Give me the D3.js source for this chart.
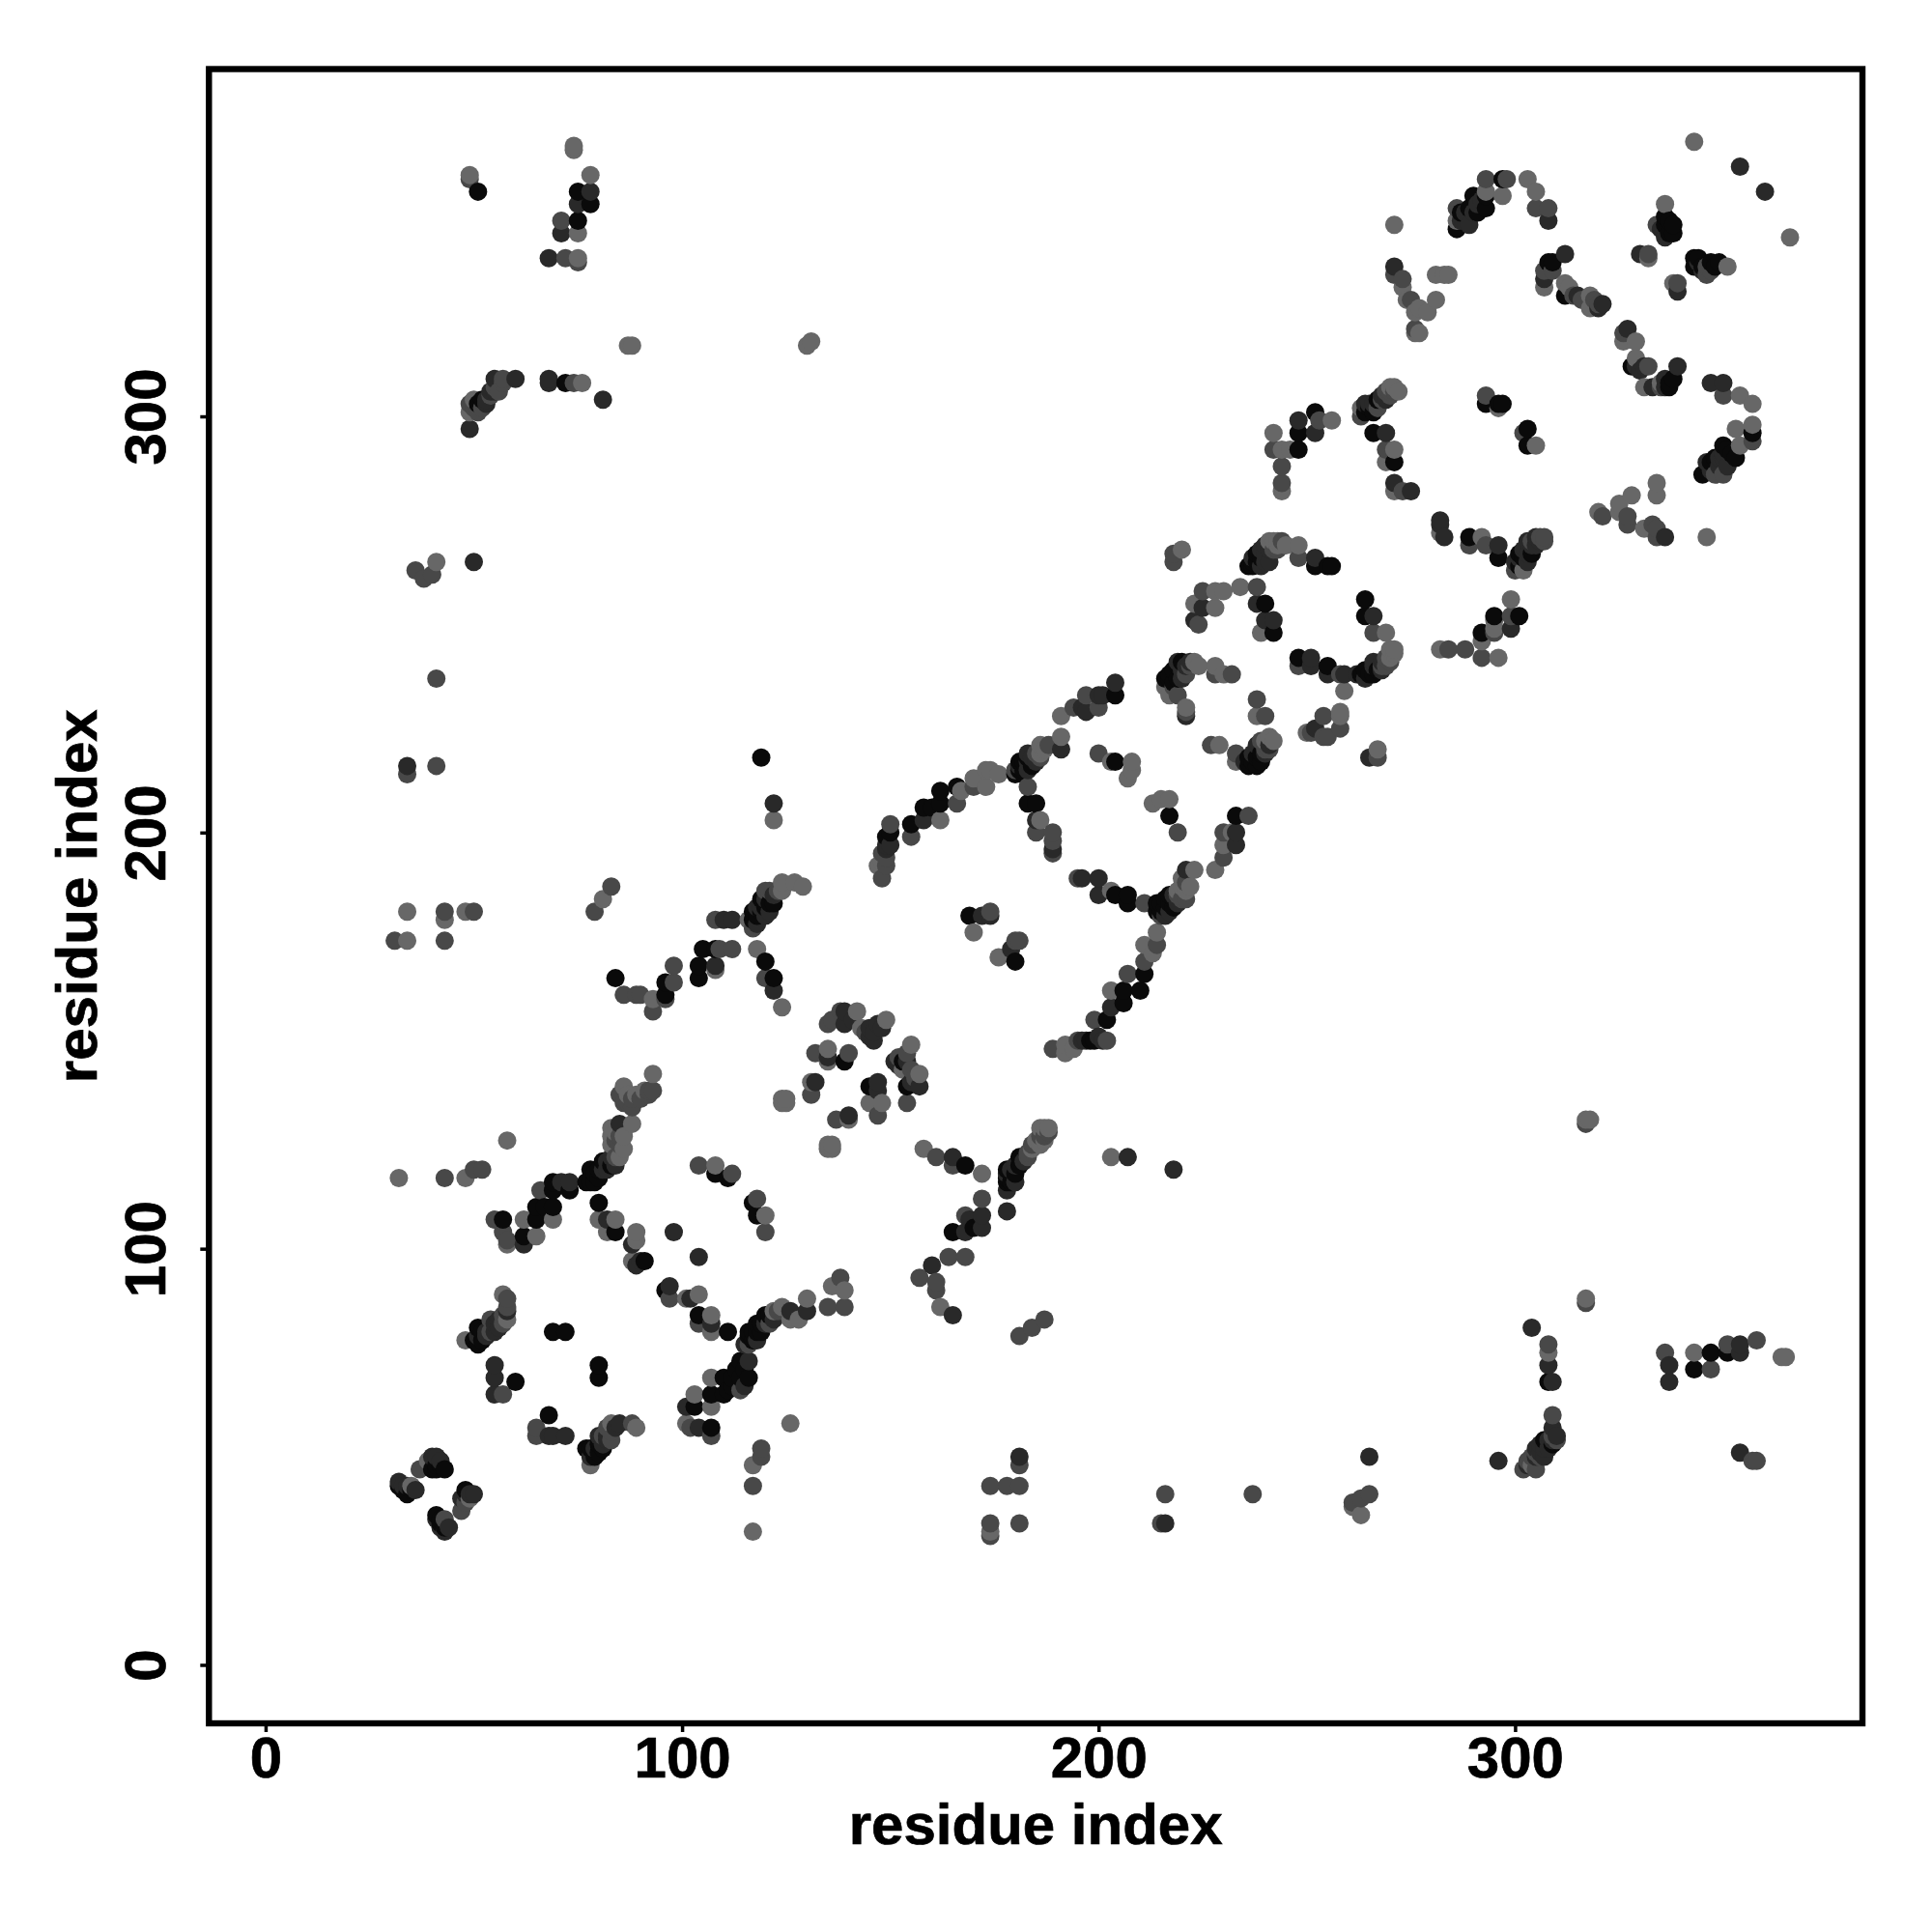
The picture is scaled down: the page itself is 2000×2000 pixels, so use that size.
<!DOCTYPE html>
<html><head><meta charset="utf-8">
<script src="https://cdn.jsdelivr.net/npm/d3@7/dist/d3.min.js"></script>
<style>html,body{margin:0;background:#fff}</style></head><body>
<script>
// each contact: [residue i, residue j, tone 0 (darkest) .. 3 (lightest)]
const tickValues=[0,100,200,300];
const axisTitle="residue index";
const bottomLeft=[[32,117,3],[43,117,2],[48,117,3],[50,119,2],[52,119,2],[55,107,2],[57,107,0],[57,104,2],[58,102,2],[58,101,3],[62,107,3],[62,101,1],[62,103,0],[65,103,3],[65,107,0],[69,107,3],[65,110,0],[67,110,0],[69,110,0],[66,114,2],[69,116,0],[69,114,0],[71,116,1],[73,114,0],[73,116,1],[77,116,0],[78,116,0],[80,117,0],[78,119,0],[82,119,1],[84,120,1],[81,121,0],[83,122,1],[85,122,3],[86,124,3],[85,127,2],[83,127,3],[83,129,3],[85,130,1],[88,130,3],[86,135,2],[87,135,2],[90,136,2],[86,139,3],[91,138,3],[92,138,2],[93,138,2],[93,142,3],[58,126,3],
[80,111,0],[80,107,3],[82,107,1],[84,107,3],[82,104,3],[84,104,0],[89,104,3],[89,102,3],[88,101,1],[88,97,3],[90,97,1],[91,97,0],[89,96,1],[98,104,1],[104,98,1],[96,90,0],[97,91,1],[97,88,2],[102,88,1],[101,88,3],[104,89,3],[104,84,0],[104,82,2],[107,84,3],[107,82,1],[107,80,3],[111,80,0],[116,77,2],[116,79,0],[117,80,0],[119,80,0],[118,82,0],[120,84,0],[121,82,2],[122,85,3],[124,86,3],[126,85,1],[128,83,3],[126,83,3],[130,85,1],[130,88,3],[135,86,2],[136,91,3],[138,93,2],[139,90,3],[139,86,2],
[114,73,0],[116,73,1],[114,69,0],[116,69,0],[110,69,0],[107,69,3],[110,65,0],[107,65,0],[103,65,3],[114,66,2],[101,62,1],[103,62,0],[107,62,3],[101,58,3],[102,57,2],[104,57,1],[107,57,0],[107,55,2],[126,58,3],[119,52,2],[119,50,2],[117,48,3],[117,43,2],[117,32,3],
[57,89,3],[58,88,2],[58,85,1],[58,83,3],[56,83,1],[54,83,2],[55,80,1],[53,80,1],[51,81,0],[50,78,0],[51,77,0],[48,78,3],[69,80,0],[72,80,0],[80,72,0],[80,69,0],[55,72,1],[55,69,1],[60,68,0],[55,65,1],[57,65,2],[68,60,0],[65,57,2],[65,55,2],[68,55,1],[69,55,1],[72,55,1],[77,52,0],[78,48,3],[78,50,1],[79,50,0],[80,53,0],[81,52,0],[82,54,1],[83,54,2],[80,55,1],[82,57,2],[83,58,3],[85,58,1],[88,58,2],[89,57,3],
[37,47,2],[39,49,3],[40,50,1],[41,50,1],[40,47,0],[42,48,0],[32,44,1],[32,43,0],[34,43,1],[34,41,0],[35,43,3],[36,42,1],[47,37,2],[48,42,0],[47,40,1],[49,40,3],[50,41,1],[41,36,0],[43,35,2],[41,35,1],[42,33,1],[44,33,1],[43,32,1],
[104,120,2],[108,120,3],[108,118,0],[111,117,0],[112,118,2],[118,112,2],[117,111,0],[118,108,0],[120,108,3],[120,104,2]];
const middleLeft=[[43,181,2],[43,179,3],[48,181,3],[50,181,2],[43,174,2],[79,181,2],[81,184,3],[83,187,2],[84,165,0],[86,161,2],[89,161,2],[90,161,2],[93,160,3],[93,157,2],[96,164,0],[96,161,0],[96,160,2],[98,164,2],[98,168,2],[104,165,0],[104,168,0],[105,172,0],[108,172,0],[109,172,2],[108,168,1],[108,167,3],[112,172,2],[108,179,2],[110,179,1],[112,179,1],[117,179,0],[116,179,3],[118,180,0],[118,182,1],[120,180,1],[119,184,0],[121,183,0],[122,183,0],[121,186,2],[124,188,3],[124,186,3],[127,188,3],[129,187,3],[118,172,3],[120,169,0],[120,165,2],[122,165,0],[122,162,1],[124,158,3],
[135,154,2],[138,157,2],[139,157,1],[139,154,1],[142,157,3],[143,153,3],[145,153,1],[145,151,1],[149,155,3],[147,154,1],[132,147,2],[135,148,3],[135,145,3],[135,146,1],[139,145,0],[140,147,2],[151,145,1],[154,145,1],[154,147,2],[155,149,3],[153,143,3],[157,142,3],[154,139,0],[157,139,1],[154,135,2],[131,137,2],[131,140,3],[132,140,1],[145,139,0],[147,140,1],[147,138,1],[145,135,3],[148,135,3],[147,132,2],[137,131,2],[140,132,1],[140,131,3],[124,136,3],[125,136,3],[124,135,3],[125,135,3],[135,125,3],[136,125,3],[135,124,3],[136,124,3],
[158,124,3],[161,122,2],[165,122,1],[165,120,2],[168,120,0],[172,118,3],[172,112,2],[172,108,1],[169,107,1],[168,108,2],[170,105,0],[165,104,0],[168,104,1],[172,105,1],[168,98,2],[164,98,2],[160,96,1],[157,93,2],[161,92,2],[161,90,2],[162,86,3],[165,84,1],[187,129,3],[188,128,2],[186,127,2],[186,125,3],[184,124,3],[183,122,2],[181,122,0],[180,120,1],[179,118,0],[178,117,0],[178,116,0],[178,114,1],[178,109,1],[203,122,3],[207,122,1],[218,119,1],[181,79,2],[184,81,2],[187,83,2],[181,50,1],[181,48,2],[178,43,2],[181,43,2],[174,43,2],[181,34,2],[174,34,2],[174,31,2],[174,32,3],[216,41,2],[215,34,2],[216,34,1],[237,41,2],[265,50,1],[265,41,2],[263,40,2],[261,39,2],[263,36,3],[261,38,3]];
const middle=[[148,189,2],[147,192,3],[149,192,2],[149,196,1],[149,199,0],[150,202,2],[155,199,2],[155,202,0],[158,203,1],[162,203,3],[158,206,0],[160,206,0],[162,207,0],[162,210,0],[166,207,2],[166,211,0],[167,210,3],[170,211,2],[170,213,3],[173,211,3],[173,215,3],[176,214,3],[174,215,3],[180,215,2],[181,217,0],[182,215,0],[183,217,1],[183,219,1],[185,217,1],[185,219,2],[186,221,3],[188,221,2],[191,220,1],[191,223,3],[183,211,2],[183,207,0],[185,207,0],[185,203,1],[186,203,3],[185,200,2],[189,200,2],[189,198,2],[189,196,1],[189,195,2],[191,228,3],[194,230,2],[196,230,1],[197,233,2],[197,229,1],[200,233,1],[200,230,2],[204,233,0],[204,236,1],[201,233,1],
[200,219,2],[204,217,0],[203,217,3],[208,217,3],[208,215,3],[207,213,3],[213,207,3],[215,208,3],[217,208,3],[217,204,0],[219,200,2],[195,189,2],[196,189,1],[200,189,1],[200,185,1],[203,186,3],[204,185,0],[207,185,0],[207,183,0],[211,183,2],[215,183,0],[215,180,2],[216,180,1],[217,183,0],[217,185,0],[219,183,1],[218,182,0],[219,186,3],[221,186,3],[221,188,2],[221,191,1],[223,191,3],[228,191,3],[230,194,2],[230,197,3],[233,197,1],[230,200,2],[232,200,3],[233,200,1],[233,204,0],[236,204,2],
[214,176,3],[214,173,2],[211,173,3],[213,171,3],[211,169,2],[211,166,0],[207,166,2],[210,162,0],[206,162,0],[203,162,3],[206,159,0],[203,158,1],[202,155,0],[199,155,2],[202,150,2],[199,150,0],[196,150,1],[197,150,1],[192,147,3],[192,149,3],[189,148,2],[169,180,0],[172,180,1],[174,180,1],[174,181,2],[170,176,3],[176,170,3],[180,174,2],[181,174,2],[179,172,1],[180,169,0]];
const upperMiddle=[[242,296,3],[242,292,2],[244,292,3],[246,292,3],[248,292,0],[248,296,0],[248,299,1],[252,301,0],[253,299,2],[252,296,1],[256,299,3],[244,288,2],[244,284,2],[244,282,3],[263,302,3],[264,301,0],[265,303,1],[267,302,2],[267,304,0],[269,304,1],[269,306,2],[271,306,2],[270,307,3],[266,301,0],[266,296,0],[269,296,1],[269,292,2],[271,292,3],[269,289,3],[271,289,0],[271,284,1],[271,282,3],[273,282,2],[275,282,1],[293,305,2],[293,303,0],[296,303,0],[297,303,0],[296,302,3],[303,297,0],[302,296,2],[303,293,0],[305,293,3],
[282,275,1],[282,274,1],[282,272,3],[283,271,1],[289,271,0],[289,269,2],[292,271,3],[293,269,2],[296,269,1],[296,266,0],[302,263,3],[301,264,0],[301,266,1],[303,265,1],[302,268,1],[304,267,0],[303,270,1],[305,269,1],[305,271,1],[307,271,2],
[237,264,0],[237,265,0],[239,264,1],[239,266,0],[241,265,1],[241,268,1],[241,270,3],[242,270,3],[244,270,2],[248,269,3],[248,266,2],[252,266,1],[252,264,0],[255,264,0],[256,264,0],[220,268,3],[218,267,2],[218,265,2],[234,259,3],[238,259,2],[225,258,2],[228,258,3],[230,258,3],[223,255,3],[225,254,1],[228,254,3],[223,251,1],[224,250,2],[238,255,1],[240,255,0],[240,251,1],[242,251,1],[239,248,3],[242,248,0],[264,256,0],[264,252,0],[266,252,1],[266,248,2],[269,248,3],
[263,238,0],[264,239,0],[265,238,0],[266,241,1],[267,239,0],[268,241,1],[269,242,2],[270,244,3],[270,242,3],[248,242,0],[248,240,2],[251,242,1],[251,240,1],[255,240,0],[255,238,1],[259,238,1],[258,238,2],[259,234,3],[258,229,3],[258,228,3],[254,228,2],[258,225,2],[254,223,2],[255,223,2],[251,224,2],[250,224,3],[252,225,1],[267,220,3],[265,218,1],[267,218,2],[228,240,3],[228,238,2],[232,238,2],[230,238,3],[238,232,2],[238,228,3],[240,228,2],[227,221,2],[229,221,3],[233,219,2],[233,217,3],[236,216,0],[236,218,0],[238,218,0],[238,221,1],[239,219,0],[241,223,3],[241,221,1],[239,222,2],
[216,237,0],[218,239,0],[218,236,0],[220,241,0],[221,238,2],[223,241,3],[220,239,1],[217,233,3],[219,233,2],[221,230,3],[221,228,1],[221,229,2],[282,244,3],[284,244,2],[288,244,2],[292,246,3],[292,248,0],[292,242,2],[296,242,3],[299,256,3],[295,252,0],[295,251,3],[299,252,2],[301,252,0],[299,249,1],[295,248,2],[295,249,3]];
const upperRight=[[271,346,3],[343,366,3],[354,360,1],[360,354,1],[366,343,3],[286,345,0],[286,347,3],[286,350,2],[288,349,1],[289,346,1],[290,353,0],[290,349,1],[293,350,0],[293,353,0],[293,357,2],[293,354,3],[297,353,3],[297,357,0],[298,357,2],[303,357,3],[305,354,3],[305,350,2],[308,350,2],[308,347,1],[312,339,1],[308,337,0],[309,337,0],[307,335,2],[307,333,1],[307,331,3],[309,335,2],[312,332,3],[312,329,0],[313,331,3],[314,329,2],[318,329,3],[318,326,3],[320,327,2],[321,327,1],[327,321,1],[326,320,2],[326,318,3],[329,318,3],[329,314,3],[329,312,1],[331,312,1],[332,312,2],[339,312,1],[331,307,3],[333,307,1],[335,308,3],[337,308,0],[335,307,2],[347,308,1],[350,308,1],[350,305,2],[354,305,3],[357,303,3],[353,297,3],[357,298,3],[357,296,0],[357,294,2],[354,293,3],[350,293,0],[353,290,0],[350,290,1],[346,289,1],[349,288,1],[350,286,2],[345,286,0],[348,286,2],
[336,351,3],[336,348,0],[334,346,2],[336,346,0],[338,344,0],[336,343,1],[330,339,1],[332,339,2],[332,338,3],[339,332,2],[338,332,3],[339,330,1],[344,338,0],[343,336,0],[346,334,2],[347,337,0],[346,336,2],[349,337,0],[351,336,3],
[271,336,1],[271,334,2],[273,333,2],[273,331,3],[274,328,3],[275,328,2],[277,326,3],[276,325,3],[279,325,3],[281,328,3],[281,334,3],[283,334,3],[284,334,3],[276,320,3],[277,320,3],[276,321,2],[334,284,3],[334,281,3],[328,281,3],[325,279,3],[320,277,3],[321,276,2],[325,277,3],[327,276,2],[327,274,2],[331,273,3],[333,274,2],[334,273,2],[334,271,2],[336,271,1],[346,271,3]];
const farContacts=[[49,358,3],[49,357,2],[51,354,0],[74,365,3],[74,364,3],[78,358,3],[75,354,0],[78,354,1],[75,351,1],[78,351,0],[75,347,0],[71,347,2],[71,344,1],[75,344,3],[68,338,1],[72,338,2],[75,338,3],[75,337,2],[87,317,3],[88,317,3],[130,317,3],[131,318,3],[81,304,1],[76,308,3],[74,308,2],[72,308,0],[68,309,1],[68,308,1],[49,301,3],[49,303,2],[50,302,2],[51,301,2],[52,304,0],[53,304,1],[54,306,1],[55,307,2],[56,306,2],[57,309,2],[55,309,1],[60,309,1],[57,308,2],[49,297,1],
[41,265,3],[36,263,2],[38,261,2],[40,262,2],[50,265,1],[41,237,2],[34,216,1],[34,214,2],[41,216,2],[31,174,2],[34,174,3],[34,181,3],[119,218,0],[122,207,1],[122,203,3],
[296,49,1],[302,47,2],[303,49,2],[304,50,2],[305,52,1],[306,53,1],[308,54,1],[309,55,2],[309,57,1],[309,60,2],[305,47,2],[304,48,3],[307,50,1],[309,53,0],[304,81,1],[308,77,2],[308,75,3],[308,72,1],[308,68,0],[309,68,1],[317,131,3],[318,131,3],[317,130,2],[317,88,3],[317,87,2],[336,75,2],[337,72,1],[337,68,1],[343,75,3],[343,71,0],[347,75,0],[347,71,2],[351,77,2],[351,75,0],[354,75,1],[354,77,1],[358,78,2],[364,74,3],[365,74,3],[354,51,1],[357,49,2],[358,49,2]];
// contacts inside the densest stretches of the helices and sheets
const denseLower=[[179,116,0],[179,119,1],[180,118,0],[181,120,0],[182,121,1],[183,123,2],[184,125,2],[185,126,3],[187,127,2],[186,129,3],[188,129,3],[187,126,3],[178,119,0],[180,116,1],[178,118,1],
[79,118,0],[80,119,0],[81,119,1],[79,116,0],[82,121,1],[83,120,0],[84,122,2],[83,125,3],[85,125,2],[84,128,3],
[118,80,0],[119,82,0],[120,82,1],[121,84,0],[122,83,1],[123,85,2],[117,78,0],[116,80,0],[115,77,1],[118,78,1],
[112,69,0],[113,71,0],[115,71,0],[112,67,0],[115,67,1],[111,66,0],
[52,78,0],[53,79,1],[54,80,2],[55,82,1],[56,81,1],[57,84,2],[57,82,2],[58,86,2],[52,80,0],[51,79,1],
[78,52,0],[79,52,1],[80,51,0],[81,53,1],[81,55,2],[82,55,1],[83,56,2],[84,57,1],
[33,42,0],[33,43,1],[35,42,0],[48,41,1],[48,39,2],[49,41,1],[41,47,0],[41,48,0],[42,49,1],[43,47,0],[42,35,0],[42,34,0],[43,33,0],
[303,48,1],[305,50,1],[306,51,1],[306,50,2],[307,52,1],[308,52,1],[309,54,1],[310,55,1],[307,54,0],[305,51,2],[310,54,2],
[88,136,2],[87,137,3],[89,137,3],[92,137,2],[85,137,2],[88,134,2],[84,126,2],[86,127,3]];
const denseMiddle=[[117,181,0],[118,178,1],[119,181,0],[119,182,1],[120,182,0],[120,184,1],[121,181,1],[122,185,1],[123,186,2],[120,186,2],[117,177,2],
[180,214,0],[181,215,0],[182,217,0],[183,215,1],[184,216,0],[184,218,1],[186,218,2],[186,219,3],[187,220,3],[181,216,1],[182,214,0],[183,218,0],
[214,181,0],[215,181,0],[216,182,0],[216,184,0],[217,181,1],[218,184,0],[218,185,1],[219,185,2],[220,184,2],[220,187,3],[221,184,2],[220,189,3],[222,187,3],[214,183,0],
[149,197,1],[148,195,2],[148,193,3],[150,200,0],[149,194,2],[150,197,1],[194,148,3],[195,150,2],[198,150,0],[200,151,1],[201,150,1],
[141,155,1],[144,152,2],[146,152,1],[146,150,1],[148,153,1],[136,155,2],[152,144,1],[153,145,0],[155,143,2],[155,140,1],[156,141,2],[152,146,2]];
const denseUpper=[[238,265,0],[238,267,0],[240,265,1],[240,267,1],[240,269,1],[242,268,2],[243,268,2],[243,269,3],[236,264,0],[237,266,1],[239,268,1],[243,270,3],[245,269,3],
[217,237,0],[217,238,0],[219,237,0],[219,240,0],[220,237,1],[221,240,1],[222,240,2],[222,241,1],[224,240,3],[218,235,2],[216,235,3],[219,241,1],
[235,217,1],[237,217,0],[237,219,1],[239,217,0],[240,219,1],[240,220,2],[240,222,3],[238,216,0],[241,220,2],[242,222,3],
[264,237,1],[266,238,0],[266,240,1],[268,239,1],[268,240,2],[269,240,2],[270,241,2],[271,243,3],[271,244,3],[262,238,1],
[300,265,1],[301,267,0],[302,266,0],[303,267,1],[304,269,1],[304,270,2],[306,270,1],[307,270,2],[306,271,2],[300,263,2],
[287,347,1],[287,349,0],[289,350,0],[291,349,0],[291,351,1],[292,352,1],
[347,289,0],[348,290,0],[349,290,1],[350,291,1],[351,292,0],[352,291,0],[351,288,1],[347,287,1],
[264,303,1],[265,302,0],[266,303,1],[268,304,2],[268,305,1],[270,306,2],[272,306,3],[263,300,2],[270,305,2],[271,307,3],
[51,303,0],[53,303,1],[54,305,2],[52,302,2],[55,306,1],[50,304,3],
[337,347,0],[337,344,0],[335,345,1],[338,346,0],[344,337,1],[345,335,1],[345,336,0],[348,336,0],[347,335,2],[343,338,0],
[315,329,1],[316,328,2],[319,328,2],[320,326,1],[328,312,0],[330,311,1],[336,307,1],[337,307,0],[338,309,0],[336,309,1]];

const W=2000,H=2000;
const x=d3.scaleLinear().domain([-13.6,383.4]).range([216.3,1928]);
const y=d3.scaleLinear().domain([-14.05,383.45]).range([1784,71.5]);
const tone=d3.scaleLinear().domain([0,3]).range(["#0a0a0a","#676767"]);
const svg=d3.select("body").append("svg").attr("width",W).attr("height",H).style("display","block");
const font="'Liberation Sans',Arial,sans-serif";
const boldText=s=>s.style("font",`bold 60px ${font}`).attr("fill","#000").attr("stroke","#000").attr("stroke-width",0.7);

const contacts=[...bottomLeft,...middleLeft,...middle,...upperMiddle,...upperRight,...farContacts,...denseLower,...denseMiddle,...denseUpper]
  .sort((a,b)=>d3.ascending(a[0],b[0])||d3.ascending(a[1],b[1]));
svg.append("g").selectAll("circle").data(contacts).join("circle")
  .attr("cx",d=>x(d[0])).attr("cy",d=>y(d[1])).attr("r",9.5).attr("fill",d=>tone(d[2]));

svg.append("rect").attr("x",x.range()[0]).attr("y",y.range()[1])
  .attr("width",x.range()[1]-x.range()[0]).attr("height",y.range()[0]-y.range()[1])
  .attr("fill","none").attr("stroke","#000").attr("stroke-width",6.4);

const gx=svg.append("g").attr("transform",`translate(0,${y.range()[0]})`)
  .call(d3.axisBottom(x).tickValues(tickValues).tickSize(9).tickPadding(4));
const gy=svg.append("g").attr("transform",`translate(${x.range()[0]},0)`)
  .call(d3.axisLeft(y).tickValues(tickValues).tickSize(9).tickPadding(4));
[gx,gy].forEach(g=>{g.select(".domain").remove();
  g.selectAll(".tick line").attr("stroke","#000").attr("stroke-width",3.5);
  g.selectAll(".tick text").call(boldText);});
gx.selectAll(".tick text").attr("dy",null).attr("y",null).attr("text-anchor","middle")
  .attr("transform","translate(0,56)");
gy.selectAll(".tick text").attr("x",null).attr("dy",null).attr("text-anchor","middle")
  .attr("transform",`translate(${171-x.range()[0]},0) rotate(-90)`);
svg.append("text").attr("x",(x.range()[0]+x.range()[1])/2).attr("y",1909).attr("text-anchor","middle")
  .call(boldText).text(axisTitle);
svg.append("text").attr("transform",`translate(100,${(y.range()[0]+y.range()[1])/2}) rotate(-90)`).attr("text-anchor","middle")
  .call(boldText).text(axisTitle);
</script></body></html>
